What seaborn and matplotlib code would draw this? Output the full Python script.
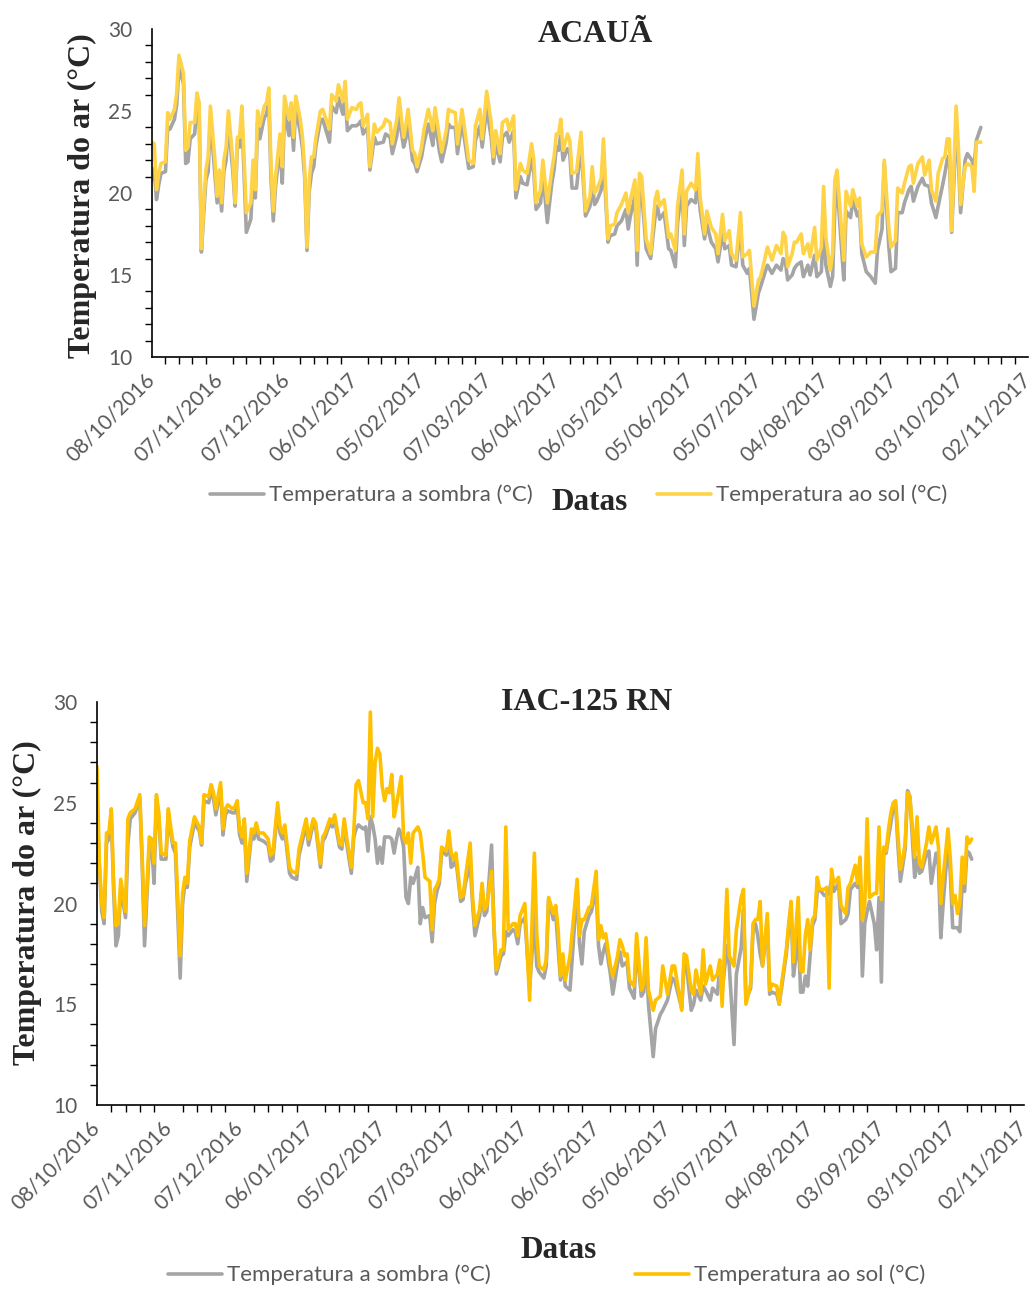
import numpy as np
import pandas as pd
import seaborn as sns
import matplotlib.pyplot as plt
import matplotlib.dates as mdates
from matplotlib.ticker import MultipleLocator, FixedLocator

# daily air temperature, two cultivars
start = pd.Timestamp('2016-10-08')
SOMBRA = 'Temperatura a sombra (°C)'
SOL = 'Temperatura ao sol (°C)'

acaua_days = [0, 1, 2, 3, 4, 6, 7, 8, 10, 11,
              12, 14, 15, 16, 17, 19, 20, 21, 22, 23,
              24, 25, 26, 28, 29, 30, 31, 32, 33, 34,
              36, 37, 38, 39, 40, 41, 42, 44, 45, 46,
              47, 48, 50, 51, 52, 53, 54, 55, 57, 58,
              59, 61, 62, 63, 64, 66, 67, 68, 69, 70,
              71, 72, 73, 75, 76, 79, 80, 82, 83, 85,
              86, 87, 89, 91, 92, 93, 94, 96, 97, 99,
              100, 103, 104, 106, 107, 109, 110, 112, 113, 114,
              116, 117, 118, 120, 121, 123, 124, 125, 126, 128,
              129, 131, 132, 133, 135, 136, 138, 139, 141, 143,
              144, 146, 147, 149, 151, 152, 153, 155, 156, 158,
              159, 161, 162, 164, 165, 167, 169, 170, 171, 173,
              174, 176, 178, 179, 180, 181, 182, 183, 185, 186,
              187, 189, 191, 193, 195, 196, 197, 198, 200, 201,
              203, 204, 206, 207, 209, 211, 212, 213, 215, 216,
              217, 218, 220, 222, 224, 225, 226, 228, 230, 231,
              233, 234, 236, 237, 238, 240, 242, 243, 244, 246,
              247, 249, 251, 252, 254, 255, 257, 258, 260, 262,
              263, 265, 266, 268, 270, 271, 273, 274, 276, 278,
              280, 281, 282, 283, 285, 286, 287, 289, 290, 292,
              293, 295, 296, 298, 299, 300, 302, 303, 304, 305,
              307, 308, 309, 311, 312, 314, 315, 316, 318, 320,
              322, 323, 325, 326, 328, 329, 331, 332, 334, 335,
              337, 338, 339, 341, 343, 344, 346, 347, 349, 350,
              352, 353, 354, 355, 356, 358, 359, 360, 362, 363,
              365, 366, 367, 369]
acaua_sol = [23.1, 23.0, 20.2, 21.2, 21.8, 21.9, 24.9, 24.5, 25.1, 26.1,
             28.4, 27.3, 22.6, 22.8, 24.3, 24.3, 26.1, 25.5, 16.6, 19.2,
             21.4, 22.2, 25.3, 22.0, 19.8, 21.4, 19.4, 22.0, 22.8, 25.0,
             22.0, 19.4, 23.4, 23.4, 25.3, 22.0, 18.8, 19.4, 22.0, 20.2,
             25.0, 24.1, 25.3, 25.5, 26.4, 21.6, 18.9, 21.0, 23.6, 21.6,
             25.9, 24.5, 25.5, 23.4, 25.9, 24.5, 23.4, 21.4, 16.7, 20.8,
             22.2, 22.2, 23.4, 25.0, 25.1, 23.9, 26.0, 25.6, 26.6, 25.6,
             26.8, 24.5, 25.2, 25.1, 25.4, 25.5, 24.1, 24.8, 21.6, 24.2,
             23.7, 24.1, 24.5, 24.3, 23.0, 24.5, 25.8, 23.4, 24.1, 25.1,
             22.6, 22.4, 21.6, 22.8, 23.8, 25.1, 24.5, 23.8, 25.2, 23.4,
             22.5, 23.8, 25.1, 25.0, 24.9, 23.0, 25.1, 24.1, 22.0, 21.8,
             24.1, 25.1, 23.3, 26.2, 24.3, 22.2, 23.8, 22.4, 24.3, 24.5,
             23.8, 24.7, 20.2, 21.8, 21.4, 21.2, 23.0, 22.0, 19.4, 20.2,
             22.0, 19.4, 21.4, 22.2, 23.6, 23.6, 24.5, 22.6, 23.6, 23.2,
             21.2, 21.3, 23.7, 18.9, 19.8, 21.6, 20.0, 20.2, 20.9, 23.3,
             17.2, 18.0, 18.1, 18.8, 19.3, 20.0, 18.8, 19.6, 20.8, 16.5,
             21.2, 21.0, 17.2, 16.3, 19.6, 20.1, 19.2, 19.6, 17.3, 17.5,
             16.5, 19.2, 21.4, 17.5, 20.1, 20.6, 20.2, 22.4, 19.8, 17.5,
             18.9, 17.9, 17.5, 16.3, 18.7, 17.1, 17.7, 16.3, 15.9, 18.8,
             16.1, 16.3, 16.5, 13.1, 14.7, 14.9, 16.1, 16.7, 15.9, 16.8,
             16.3, 17.6, 17.3, 15.5, 16.3, 17.0, 17.0, 17.5, 16.3, 16.9,
             16.1, 17.9, 15.9, 16.7, 20.4, 17.3, 15.3, 16.3, 20.8, 21.4,
             17.7, 15.9, 20.1, 19.2, 20.2, 19.2, 19.7, 16.9, 16.1, 16.4,
             16.4, 18.6, 18.9, 22.0, 17.9, 16.7, 17.1, 20.3, 20.0, 20.6,
             21.6, 21.7, 20.6, 21.8, 22.2, 21.1, 22.0, 20.2, 19.5, 21.2,
             22.1, 22.2, 23.3, 23.3, 17.7, 25.3, 22.8, 19.3, 21.6, 21.8,
             21.6, 20.1, 23.1, 23.1]
acaua_sombra = [20.8, 21.5, 19.6, 20.5, 21.2, 21.3, 24.0, 23.9, 24.5, 25.4,
                27.6, 26.7, 21.8, 21.9, 23.3, 23.6, 25.3, 24.7, 16.4, 18.7,
                20.8, 21.3, 24.6, 21.1, 19.4, 20.6, 18.9, 21.3, 22.0, 24.3,
                21.3, 19.2, 23.0, 22.8, 24.7, 21.2, 17.6, 18.4, 21.0, 19.7,
                24.3, 23.3, 24.6, 24.8, 25.6, 20.8, 18.3, 20.4, 22.8, 20.6,
                25.0, 23.5, 24.8, 22.6, 25.2, 23.7, 22.7, 20.9, 16.5, 20.1,
                21.2, 21.6, 22.9, 24.4, 24.5, 23.1, 25.3, 24.9, 25.8, 24.8,
                25.9, 23.8, 24.1, 24.1, 24.2, 24.4, 23.6, 24.0, 21.4, 23.4,
                23.0, 23.1, 23.6, 23.4, 22.4, 23.5, 24.7, 22.8, 23.3, 24.2,
                22.0, 21.8, 21.3, 22.2, 23.0, 24.2, 23.6, 22.9, 24.4, 22.5,
                21.9, 23.1, 24.2, 24.0, 24.0, 22.4, 24.3, 23.4, 21.5, 21.6,
                23.2, 24.1, 22.8, 25.2, 23.4, 21.8, 23.0, 21.9, 23.4, 23.7,
                23.1, 23.8, 19.7, 21.0, 20.6, 20.5, 22.1, 21.2, 19.0, 19.4,
                21.2, 18.2, 20.6, 21.4, 22.8, 22.6, 23.6, 22.0, 22.7, 22.4,
                20.3, 20.3, 22.9, 18.6, 19.2, 20.6, 19.3, 19.5, 20.2, 22.3,
                17.0, 17.4, 17.5, 18.0, 18.3, 19.0, 17.8, 18.6, 19.8, 15.6,
                20.2, 20.1, 16.6, 16.0, 18.6, 19.2, 18.4, 18.8, 16.6, 16.5,
                15.5, 18.2, 20.4, 16.8, 19.2, 19.6, 19.4, 21.4, 19.0, 17.2,
                18.1, 17.0, 16.6, 15.8, 17.6, 16.6, 16.8, 15.6, 15.5, 17.9,
                15.6, 15.1, 15.4, 12.3, 13.9, 14.3, 15.2, 15.6, 15.1, 15.6,
                15.3, 16.0, 15.8, 14.7, 15.0, 15.4, 15.6, 15.8, 14.9, 15.6,
                15.0, 16.2, 14.9, 15.2, 18.5, 15.6, 14.3, 14.9, 19.0, 20.6,
                16.6, 14.7, 18.9, 18.5, 19.6, 18.6, 18.9, 16.3, 15.2, 14.9,
                14.5, 16.5, 17.8, 21.8, 16.8, 15.2, 15.4, 18.8, 18.8, 19.4,
                20.2, 20.4, 19.5, 20.4, 20.9, 20.5, 20.4, 19.4, 18.5, 19.2,
                20.5, 21.2, 22.0, 22.3, 17.6, 23.8, 22.0, 18.8, 22.0, 22.4,
                22.0, 21.6, 23.2, 24.0]

iac_days = [0, 1, 2, 3, 4, 5, 6, 7, 8, 9,
            10, 12, 13, 14, 16, 18, 19, 20, 21, 22,
            23, 24, 25, 26, 27, 29, 30, 31, 32, 33,
            35, 36, 37, 38, 39, 40, 41, 43, 44, 45,
            47, 48, 49, 50, 52, 53, 54, 55, 57, 58,
            59, 60, 61, 62, 63, 65, 66, 67, 68, 70,
            72, 73, 74, 76, 77, 78, 79, 81, 82, 84,
            85, 86, 88, 89, 91, 92, 94, 95, 96, 98,
            99, 100, 102, 103, 104, 105, 107, 108, 109, 110,
            112, 113, 114, 115, 116, 117, 118, 119, 120, 121,
            122, 123, 124, 125, 126, 127, 128, 129, 130, 131,
            132, 133, 135, 136, 137, 138, 140, 141, 142, 143,
            144, 145, 147, 148, 149, 150, 151, 153, 154, 155,
            157, 158, 159, 161, 162, 163, 164, 166, 167, 168,
            170, 171, 172, 173, 175, 176, 177, 178, 180, 182,
            183, 184, 185, 186, 188, 189, 190, 192, 193, 194,
            195, 196, 197, 199, 202, 203, 204, 205, 207, 208,
            210, 211, 212, 213, 214, 216, 217, 219, 220, 221,
            222, 223, 224, 226, 227, 229, 230, 231, 232, 234,
            235, 237, 238, 240, 242, 243, 246, 247, 248, 250,
            251, 252, 254, 255, 256, 258, 259, 261, 262, 263,
            265, 266, 268, 269, 271, 272, 273, 275, 276, 277,
            278, 279, 280, 282, 283, 284, 286, 287, 288, 290,
            291, 292, 293, 294, 295, 296, 297, 298, 299, 300,
            301, 302, 303, 304, 306, 307, 308, 309, 310, 312,
            313, 315, 316, 317, 319, 320, 321, 322, 323, 324,
            325, 327, 328, 329, 330, 331, 332, 333, 334, 335,
            336, 337, 338, 339, 340, 341, 342, 344, 345, 346,
            347, 349, 350, 351, 353, 354, 355, 356, 358, 359,
            360, 361, 362, 363, 364, 365, 366, 367, 368]
iac_sol = [26.8, 22.0, 20.0, 19.3, 23.5, 23.5, 24.7, 21.0, 18.9, 19.0,
           21.2, 19.6, 24.2, 24.5, 24.7, 25.4, 22.3, 18.9, 20.8, 23.3,
           23.2, 22.0, 25.4, 24.5, 22.5, 22.4, 24.7, 23.8, 23.0, 23.0,
           17.4, 20.5, 21.3, 21.0, 23.1, 23.7, 24.3, 23.8, 23.0, 25.4,
           25.3, 25.9, 25.5, 24.7, 26.0, 23.7, 24.7, 24.9, 24.7, 24.8,
           25.1, 23.7, 23.3, 24.2, 21.5, 23.7, 23.5, 24.0, 23.5, 23.5,
           23.2, 22.4, 22.5, 25.0, 23.8, 23.5, 23.9, 21.8, 21.6, 21.5,
           22.7, 23.2, 24.2, 23.2, 24.2, 24.0, 22.0, 23.3, 23.5, 24.2,
           24.0, 24.4, 23.0, 22.9, 24.2, 23.3, 21.8, 23.5, 25.9, 26.1,
           25.0, 25.0, 24.2, 29.5, 24.3, 27.0, 27.7, 27.4, 25.8, 25.1,
           25.7, 25.5, 26.4, 24.3, 24.9, 25.6, 26.3, 23.3, 23.0, 23.5,
           22.0, 23.5, 23.8, 23.5, 22.5, 21.3, 21.1, 18.7, 20.7, 20.9,
           21.2, 22.8, 22.6, 23.6, 22.5, 22.2, 22.5, 20.3, 20.4, 21.3,
           23.0, 20.3, 18.9, 19.7, 21.0, 19.7, 19.9, 21.6, 19.0, 16.7,
           17.7, 17.7, 23.8, 18.7, 19.0, 19.0, 18.4, 19.4, 20.0, 15.2,
           19.0, 22.5, 18.5, 16.9, 16.7, 17.2, 20.3, 19.5, 19.9, 18.7,
           16.4, 17.5, 16.2, 17.4, 21.2, 18.4, 19.2, 19.2, 19.8, 19.9,
           21.6, 18.2, 18.9, 18.3, 18.5, 16.9, 16.4, 17.4, 18.2, 17.9,
           17.4, 17.5, 16.2, 15.9, 18.5, 15.7, 16.0, 18.3, 15.7, 14.7,
           15.2, 15.4, 16.9, 15.5, 16.9, 16.9, 14.7, 17.5, 17.4, 15.7,
           15.5, 16.7, 15.5, 17.7, 16.0, 16.9, 16.2, 16.5, 17.2, 14.9,
           20.7, 17.4, 16.9, 18.7, 20.3, 20.7, 15.0, 16.0, 19.0, 19.2,
           19.2, 20.1, 16.9, 19.5, 15.7, 16.0, 15.9, 15.0, 16.0, 17.7,
           19.0, 20.1, 17.1, 18.7, 20.3, 16.7, 16.6, 18.4, 19.2, 17.7,
           19.2, 19.4, 21.3, 20.7, 20.7, 20.8, 15.8, 21.7, 21.0, 21.3,
           19.9, 19.5, 20.8, 21.0, 21.9, 21.0, 22.3, 19.2, 19.9, 24.2,
           20.3, 20.5, 20.5, 23.8, 20.2, 22.8, 22.6, 23.7, 24.5, 25.0,
           25.1, 23.3, 21.7, 22.2, 23.0, 25.5, 25.3, 22.3, 24.3, 22.0,
           21.8, 23.0, 23.8, 23.0, 23.8, 22.8, 20.0, 21.3, 23.7, 22.2,
           20.0, 20.4, 19.5, 20.0, 22.3, 21.0, 23.3, 23.0, 23.2]
iac_sombra = [24.5, 21.8, 19.6, 19.0, 23.0, 23.2, 24.5, 20.6, 17.9, 18.4,
              20.8, 19.3, 23.0, 24.2, 24.5, 25.2, 22.0, 17.9, 20.3, 22.8,
              22.9, 21.0, 25.2, 24.2, 22.2, 22.2, 24.5, 23.5, 22.8, 22.5,
              16.3, 20.0, 21.0, 20.8, 22.8, 23.4, 24.0, 23.6, 22.9, 25.1,
              25.0, 25.6, 25.2, 24.4, 25.7, 23.4, 24.4, 24.6, 24.5, 24.5,
              24.8, 23.4, 23.0, 23.9, 21.1, 23.4, 23.2, 23.7, 23.2, 23.1,
              22.9, 22.1, 22.2, 24.7, 23.5, 23.2, 23.6, 21.5, 21.3, 21.2,
              22.4, 22.9, 23.9, 22.9, 24.0, 23.8, 21.8, 23.1, 23.3, 24.0,
              23.8, 24.2, 22.8, 22.7, 24.0, 23.0, 21.5, 23.3, 23.7, 23.9,
              23.7, 23.8, 22.6, 24.3, 23.9, 23.2, 22.0, 22.8, 22.0, 23.3,
              23.3, 23.3, 23.2, 22.5, 23.2, 23.7, 23.4, 22.8, 20.3, 20.0,
              21.3, 21.0, 21.8, 19.0, 19.8, 19.3, 19.4, 18.1, 20.0, 20.6,
              21.0, 22.6, 22.4, 23.3, 21.8, 21.9, 22.2, 20.1, 20.2, 21.0,
              22.0, 20.0, 18.4, 19.4, 20.8, 19.4, 19.6, 22.9, 18.7, 16.5,
              17.4, 17.5, 18.6, 18.4, 18.7, 18.6, 18.0, 19.0, 19.3, 15.8,
              17.5, 19.5, 16.9, 16.6, 16.3, 16.9, 20.2, 19.2, 19.5, 17.8,
              16.2, 17.1, 15.9, 15.7, 20.8, 18.0, 17.0, 18.6, 19.4, 19.6,
              20.7, 17.9, 17.0, 17.6, 18.0, 16.5, 15.5, 17.0, 17.6, 16.9,
              17.0, 17.1, 15.8, 15.3, 18.0, 15.4, 15.6, 17.5, 15.0, 12.4,
              13.8, 14.5, 14.7, 15.2, 16.3, 16.2, 14.8, 17.1, 16.9, 14.7,
              15.0, 15.7, 15.2, 15.9, 15.7, 15.2, 15.8, 15.5, 16.8, 15.6,
              17.9, 16.9, 13.0, 16.5, 17.8, 19.7, 15.2, 15.8, 18.7, 19.0,
              18.4, 17.5, 16.9, 19.1, 15.5, 15.6, 15.5, 15.0, 15.8, 17.5,
              18.8, 19.8, 16.4, 17.3, 18.8, 15.6, 15.6, 16.4, 15.9, 17.4,
              18.9, 19.2, 20.6, 20.7, 20.4, 20.4, 20.5, 21.2, 20.6, 21.0,
              19.0, 19.2, 19.5, 20.7, 21.0, 20.8, 21.2, 16.4, 19.0, 19.6,
              20.1, 19.0, 17.7, 20.3, 16.1, 22.6, 22.5, 23.3, 24.0, 24.8,
              24.9, 22.8, 21.1, 21.9, 22.7, 25.6, 25.3, 21.3, 22.3, 21.5,
              21.6, 22.5, 22.6, 21.0, 22.5, 21.9, 18.3, 20.0, 23.0, 21.5,
              18.8, 18.8, 18.8, 18.6, 21.0, 20.6, 22.6, 22.5, 22.2]

major_dates = pd.date_range(start, periods=14, freq='30D')
minor_dates = pd.date_range(start, periods=66, freq='6D')

sns.set_theme(style='white')
plt.rcParams['font.family'] = ['Lato', 'DejaVu Sans']
GREY_TXT = '#595959'
SERIF = 'Liberation Serif'

W, H = 1033, 1293
fig = plt.figure(figsize=(W / 100, H / 100), dpi=100)


def px_rect(x0, x1, y0, y1):
    return [x0 / W, 1 - y1 / H, (x1 - x0) / W, (y1 - y0) / H]


def draw_panel(ax, days, sombra, sol, sol_color):
    df = pd.DataFrame({'Data': start + pd.to_timedelta(days, unit='D'),
                       SOMBRA: sombra, SOL: sol})
    long = df.melt(id_vars='Data', var_name='serie', value_name='temp')
    sns.lineplot(data=long, x='Data', y='temp', hue='serie',
                 hue_order=[SOMBRA, SOL],
                 palette={SOMBRA: '#A5A5A5', SOL: sol_color},
                 linewidth=2.6, ax=ax, legend=False)
    ax.set_xlim(major_dates[0], major_dates[-1])
    ax.set_ylim(10, 30)
    ax.set_xlabel('')
    ax.set_ylabel('')
    ax.yaxis.set_major_locator(MultipleLocator(5))
    ax.yaxis.set_minor_locator(MultipleLocator(1))
    ax.xaxis.set_major_locator(FixedLocator(mdates.date2num(major_dates)))
    ax.xaxis.set_minor_locator(FixedLocator(mdates.date2num(minor_dates)))
    ax.xaxis.set_major_formatter(mdates.DateFormatter('%d/%m/%Y'))
    for side in ['top', 'right']:
        ax.spines[side].set_visible(False)
    for side in ['left', 'bottom']:
        ax.spines[side].set_color('black')
        ax.spines[side].set_linewidth(1.2)
    ax.tick_params(which='major', direction='inout', length=10, width=1.2,
                   color='black', labelcolor=GREY_TXT, labelsize=15)
    ax.tick_params(which='minor', direction='out', length=5, width=1.0,
                   color='black', bottom=True, left=True)
    ax.tick_params(axis='y', which='major', pad=9)
    ax.tick_params(axis='x', which='major', pad=9)
    plt.setp(ax.get_xticklabels(), rotation=45, ha='right', va='center',
             rotation_mode='anchor')
    return ax.lines[:2]


# --- ACAUÃ ---
ax1 = fig.add_axes(px_rect(152, 1028, 29, 357))
h1 = draw_panel(ax1, acaua_days, acaua_sombra, acaua_sol, '#FFD347')
fig.text(595 / W, 1 - 34 / H, 'ACAUÃ', ha='center', va='center',
         family=SERIF, fontweight='bold', fontsize=23)
fig.text(82 / W, 1 - 196 / H, 'Temperatura do ar (°C)', ha='center', va='center',
         rotation=90, family=SERIF, fontweight='bold', fontsize=23)
fig.text(590 / W, 1 - 502 / H, 'Datas', ha='center', va='center',
         family=SERIF, fontweight='bold', fontsize=22.5)
fig.legend(h1, [SOMBRA, SOL], loc='center', bbox_to_anchor=(579 / W, 1 - 495 / H),
           ncol=2, frameon=False, columnspacing=5.6, handlelength=2.4,
           handletextpad=0.25, fontsize=16, labelcolor=GREY_TXT)

# --- IAC-125 RN ---
ax2 = fig.add_axes(px_rect(97, 1024, 702, 1105))
h2 = draw_panel(ax2, iac_days, iac_sombra, iac_sol, '#FFC000')
fig.text(587 / W, 1 - 702 / H, 'IAC-125 RN', ha='center', va='center',
         family=SERIF, fontweight='bold', fontsize=23)
fig.text(27 / W, 1 - 903 / H, 'Temperatura do ar (°C)', ha='center', va='center',
         rotation=90, family=SERIF, fontweight='bold', fontsize=23)
fig.text(559 / W, 1 - 1251 / H, 'Datas', ha='center', va='center',
         family=SERIF, fontweight='bold', fontsize=22.5)
fig.legend(h2, [SOMBRA, SOL], loc='center', bbox_to_anchor=(547 / W, 1 - 1275 / H),
           ncol=2, frameon=False, columnspacing=6.5, handlelength=2.4,
           handletextpad=0.25, fontsize=16, labelcolor=GREY_TXT)

fig.savefig('out.png', dpi=100)
